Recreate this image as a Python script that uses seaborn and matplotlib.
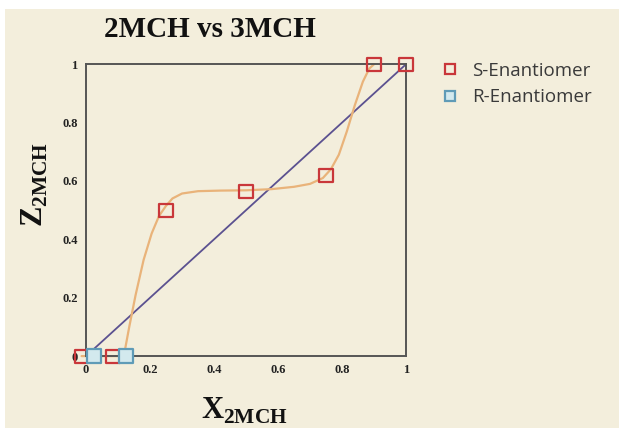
import numpy as np
import pandas as pd
import seaborn as sns
import matplotlib.pyplot as plt
from matplotlib.lines import Line2D
from matplotlib.patches import Rectangle

# Điểm dữ liệu
s_x = [-0.014, 0.084, 0.25, 0.5, 0.75, 0.9, 1.0]
s_y = [0.0, 0.0, 0.5, 0.565, 0.62, 1.0, 1.0]
r_x = [0.026, 0.124]
r_y = [0.0, 0.0]

# Đường cong cam
curve_x = [-0.014, 0.084, 0.118, 0.135, 0.155, 0.18, 0.205, 0.228, 0.25, 0.27, 0.3, 0.35, 0.42,
           0.5, 0.58, 0.65, 0.7, 0.74, 0.765, 0.79, 0.815, 0.84, 0.865, 0.885, 0.9]
curve_y = [0.0, 0.0, 0.0, 0.1, 0.21, 0.33, 0.42, 0.48, 0.515, 0.54, 0.557, 0.565, 0.567,
           0.568, 0.572, 0.58, 0.59, 0.61, 0.64, 0.69, 0.77, 0.86, 0.94, 0.985, 1.0]

diag_x = [0, 1]
diag_y = [0, 1]

bg = '#f3eedc'
serif = 'Liberation Serif'

sns.set_style('white')
plt.rcParams['mathtext.fontset'] = 'custom'
plt.rcParams['mathtext.rm'] = serif
plt.rcParams['mathtext.bf'] = serif + ':bold'

fig = plt.figure(figsize=(6.19, 4.28), dpi=100, facecolor='white')
fig.patches.append(Rectangle((0.008, 0), 0.992, 0.978, transform=fig.transFigure,
                             facecolor=bg, edgecolor='none', zorder=-10))
ax = fig.add_axes([0.139, 0.168, 0.517, 0.682])
ax.set_facecolor(bg)

sns.lineplot(x=diag_x, y=diag_y, ax=ax, color='#5b5190', linewidth=1.3, sort=False)
sns.lineplot(x=curve_x, y=curve_y, ax=ax, color='#e9b37a', linewidth=1.6, sort=False)
for l in ax.lines:
    l.set_clip_on(False)

sns.scatterplot(x=s_x, y=s_y, ax=ax, marker='s', s=90, facecolor='none',
                edgecolor='#c9373a', linewidth=1.6, clip_on=False, zorder=5)
sns.scatterplot(x=r_x, y=r_y, ax=ax, marker='s', s=90, facecolor='#d3e9ee',
                edgecolor='#5f9bb7', linewidth=1.6, clip_on=False, zorder=6)

ax.set_xlim(0, 1)
ax.set_ylim(0, 1)
ticks = [0, 0.2, 0.4, 0.6, 0.8, 1]
labels = ['0', '0.2', '0.4', '0.6', '0.8', '1']
ax.set_xticks(ticks)
ax.set_xticklabels(labels, fontfamily=serif, fontweight='bold', fontsize=9, color='#222')
ax.set_yticks(ticks)
ax.set_yticklabels(labels, fontfamily=serif, fontweight='bold', fontsize=9, color='#222')
ax.tick_params(length=0, pad=6)
for sp in ax.spines.values():
    sp.set_color('#555555')
    sp.set_linewidth(1.4)

fig.text(0.339, 0.93, '2MCH vs 3MCH', fontfamily=serif, fontweight='bold', fontsize=21,
         color='#111', ha='center', va='center')
fig.text(0.394, 0.04, r'$\mathbf{X}_{\mathbf{2MCH}}$', fontsize=22, color='#111',
         ha='center', va='center')
fig.text(0.057, 0.568, r'$\mathbf{Z}_{\mathbf{2MCH}}$', fontsize=22, color='#111',
         ha='center', va='center', rotation=90)

handles = [Line2D([], [], marker='s', linestyle='none', markersize=7, markerfacecolor='none',
                  markeredgecolor='#c9373a', markeredgewidth=1.6),
           Line2D([], [], marker='s', linestyle='none', markersize=7, markerfacecolor='#d3e9ee',
                  markeredgecolor='#5f9bb7', markeredgewidth=1.6)]
leg = fig.legend(handles, ['S-Enantiomer', 'R-Enantiomer'], loc='upper left',
                 bbox_to_anchor=(0.67, 0.895), frameon=False, handletextpad=0.15,
                 labelspacing=0.45, prop={'family': 'Open Sans', 'size': 13.5})
for t in leg.get_texts():
    t.set_color('#3a3a3a')

fig.savefig('out.png', dpi=100, facecolor=fig.get_facecolor())
